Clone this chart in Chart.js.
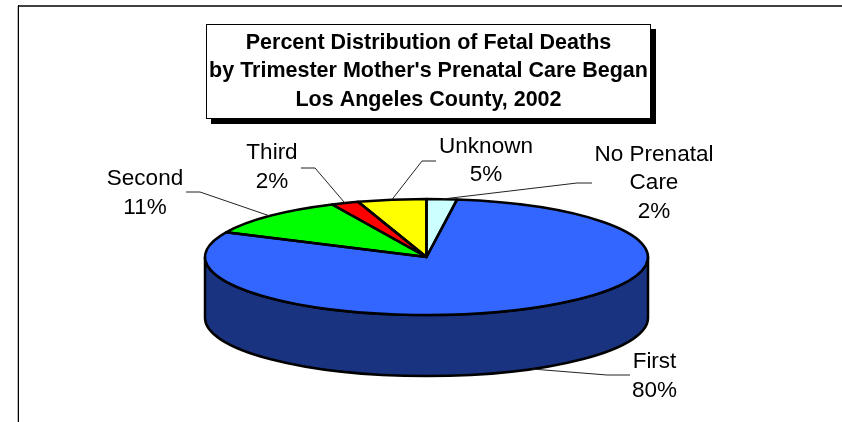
<!DOCTYPE html>
<html lang="en">

<head>
    <meta charset="UTF-8">
    <title>Fetal Deaths by Trimester</title>
    <script src="https://cdn.jsdelivr.net/npm/chart.js"></script>
    <style>
        body {
            margin: 0;
            background-color: #fff;
        }

        canvas {
            display: block;
        }
    </style>
</head>

<body>
    <canvas id="pieChart" width="842" height="422"></canvas>

    <script>
        const titleLines = ['Percent Distribution of Fetal Deaths', "by Trimester Mother's Prenatal Care Began", 'Los Angeles County, 2002'];
        const categories = ['No Prenatal Care', 'First', 'Second', 'Third', 'Unknown'];
        const percents = [2.2, 79.8, 11, 2, 5];
        const sliceColors = ['#CCFFFF', '#3366FF', '#00FF00', '#FF0000', '#FFFF00'];

        // ellipse the flat pie gets squashed onto
        const pie = { cx: 426.5, cy: 257, rx: 221.5, ry: 58, depth: 61 };

        // text centre, first line y, and the elbow + end of each leader line
        const callouts = [
            { lines: ['No Prenatal', 'Care'], x: 654, y: 154.5, elbow: [577, 183], end: [592, 183] },
            { lines: ['First'], x: 654.5, y: 362, elbow: [607, 375], end: [630, 375] },
            { lines: ['Second'], x: 145, y: 179, elbow: [200, 192], end: [186, 192] },
            { lines: ['Third'], x: 272, y: 153, elbow: [315, 168], end: [301, 168] },
            { lines: ['Unknown'], x: 486, y: 146.5, elbow: [422, 161], end: [436, 161] }
        ];

        const pie3d = {
            id: 'pie3d',
            beforeDraw(chart) {
                const ctx = chart.ctx;
                ctx.save();
                // frame
                ctx.fillStyle = '#404040';
                ctx.fillRect(18, 5, 824, 2);
                ctx.fillStyle = '#000';
                ctx.fillRect(18, 5, 1, 417);
                ctx.fillStyle = '#bbb';
                ctx.fillRect(17, 6, 1, 416);
                // title box with shadow
                ctx.fillStyle = '#000';
                ctx.fillRect(211, 29, 445, 95);
                ctx.fillStyle = '#fff';
                ctx.fillRect(206, 24, 445, 95);
                ctx.strokeStyle = '#000';
                ctx.lineWidth = 1;
                ctx.strokeRect(206.5, 24.5, 444, 94);
                ctx.restore();
            },
            beforeDatasetDraw(chart) {
                const ctx = chart.ctx;
                const arc = chart.getDatasetMeta(0).data[0];
                // pie side
                ctx.save();
                ctx.beginPath();
                ctx.ellipse(pie.cx, pie.cy, pie.rx, pie.ry, 0, Math.PI, 0, true);
                ctx.lineTo(pie.cx + pie.rx, pie.cy + pie.depth);
                ctx.ellipse(pie.cx, pie.cy + pie.depth, pie.rx, pie.ry, 0, 0, Math.PI, false);
                ctx.closePath();
                ctx.fillStyle = '#1A3380';
                ctx.fill();
                ctx.strokeStyle = '#000';
                ctx.lineWidth = 2.5;
                ctx.stroke();
                ctx.restore();
                // squash the top face
                ctx.save();
                ctx.translate(pie.cx, pie.cy);
                ctx.scale(pie.rx / arc.outerRadius, pie.ry / arc.outerRadius);
                ctx.translate(-arc.x, -arc.y);
            },
            afterDatasetDraw(chart) {
                const ctx = chart.ctx;
                ctx.restore();
                const arcs = chart.getDatasetMeta(0).data;

                // outlines, done here so the width stays even
                ctx.save();
                ctx.strokeStyle = '#000';
                ctx.lineWidth = 2.5;
                ctx.lineJoin = 'round';
                arcs.forEach(arc => {
                    ctx.beginPath();
                    ctx.moveTo(pie.cx, pie.cy);
                    ctx.ellipse(pie.cx, pie.cy, pie.rx, pie.ry, 0, arc.startAngle, arc.endAngle);
                    ctx.closePath();
                    ctx.stroke();
                });

                // leader lines
                ctx.strokeStyle = '#222';
                ctx.lineWidth = 1;
                arcs.forEach((arc, i) => {
                    const mid = (arc.startAngle + arc.endAngle) / 2;
                    const px = pie.cx + pie.rx * Math.cos(mid);
                    let py = pie.cy + pie.ry * Math.sin(mid);
                    if (Math.sin(mid) > 0) py += pie.depth;
                    ctx.beginPath();
                    ctx.moveTo(px, py);
                    ctx.lineTo(callouts[i].elbow[0], callouts[i].elbow[1]);
                    ctx.lineTo(callouts[i].end[0], callouts[i].end[1]);
                    ctx.stroke();
                });

                // slice labels
                ctx.fillStyle = '#000';
                ctx.textAlign = 'center';
                ctx.textBaseline = 'middle';
                ctx.font = '22.5px "Liberation Sans"';
                callouts.forEach((c, i) => {
                    c.lines.concat(Math.round(percents[i]) + '%').forEach((line, j) => {
                        ctx.fillText(line, c.x, c.y + j * 28.7);
                    });
                });

                // title
                ctx.font = 'bold 21.5px "Liberation Sans"';
                titleLines.forEach((line, j) => {
                    ctx.fillText(line, 428.5, 43 + j * 28.5);
                });
                ctx.restore();
            }
        };

        new Chart(document.getElementById('pieChart'), {
            type: 'pie',
            data: {
                labels: categories,
                datasets: [{
                    data: percents,
                    backgroundColor: sliceColors,
                    borderWidth: 0,
                    clip: false
                }]
            },
            options: {
                responsive: false,
                animation: false,
                events: [],
                plugins: {
                    legend: { display: false },
                    tooltip: { enabled: false }
                }
            },
            plugins: [pie3d]
        });
    </script>
</body>

</html>
